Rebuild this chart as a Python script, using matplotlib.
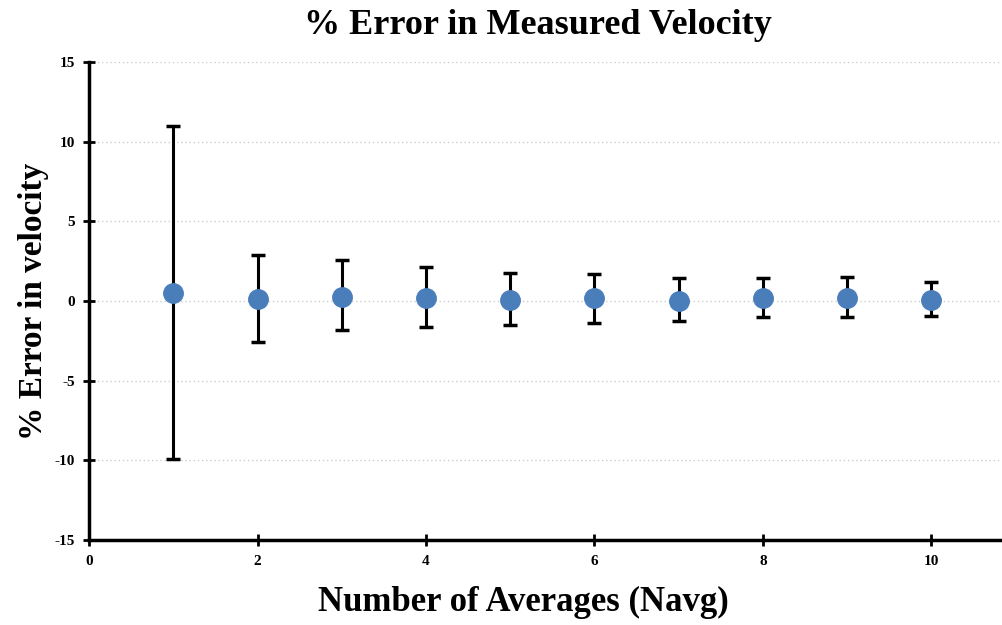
import matplotlib.pyplot as plt

# Data
n_avg = [1, 2, 3, 4, 5, 6, 7, 8, 9, 10]
mean_err = [0.48, 0.10, 0.27, 0.20, 0.06, 0.16, 0.00, 0.16, 0.16, 0.06]
upper = [11.0, 2.88, 2.57, 2.15, 1.77, 1.69, 1.42, 1.42, 1.48, 1.17]
lower = [-9.92, -2.56, -1.83, -1.62, -1.51, -1.37, -1.24, -1.03, -1.03, -0.93]

yerr = [[m - lo for m, lo in zip(mean_err, lower)],
        [up - m for m, up in zip(mean_err, upper)]]

plt.rcParams['font.family'] = ['Liberation Serif', 'DejaVu Serif']
plt.rcParams['axes.unicode_minus'] = False

fig = plt.figure(figsize=(10.02, 6.25), dpi=100)
ax = fig.add_axes([0.0891, 0.136, 0.9243, 0.765])

ax.errorbar(n_avg, mean_err, yerr=yerr, fmt='o', color='#4a7ebb',
            markersize=14, ecolor='black', elinewidth=2.2, capsize=5,
            capthick=2.5, zorder=3)

ax.set_xlim(0, 11)
ax.set_ylim(-15, 15)
ax.set_xticks([0, 2, 4, 6, 8, 10])
ax.set_yticks([-15, -10, -5, 0, 5, 10, 15])

ax.yaxis.grid(True, linestyle=(0, (1, 2)), color='#cccccc', linewidth=1)
ax.set_axisbelow(True)

for s in ['top', 'right']:
    ax.spines[s].set_visible(False)
for s in ['left', 'bottom']:
    ax.spines[s].set_linewidth(2.5)

ax.tick_params(direction='inout', length=9, width=2, labelsize=11, pad=6)
for lab in ax.get_xticklabels() + ax.get_yticklabels():
    lab.set_fontweight('bold')

ax.set_title('% Error in Measured Velocity', fontsize=26, fontweight='bold',
             pad=20, x=0.4845)
ax.set_xlabel('Number of Averages (Navg)', fontsize=25, fontweight='bold',
              labelpad=13, x=0.469)
ax.set_ylabel('% Error in velocity', fontsize=24, fontweight='bold', labelpad=4)

fig.savefig('out.png', dpi=100)
